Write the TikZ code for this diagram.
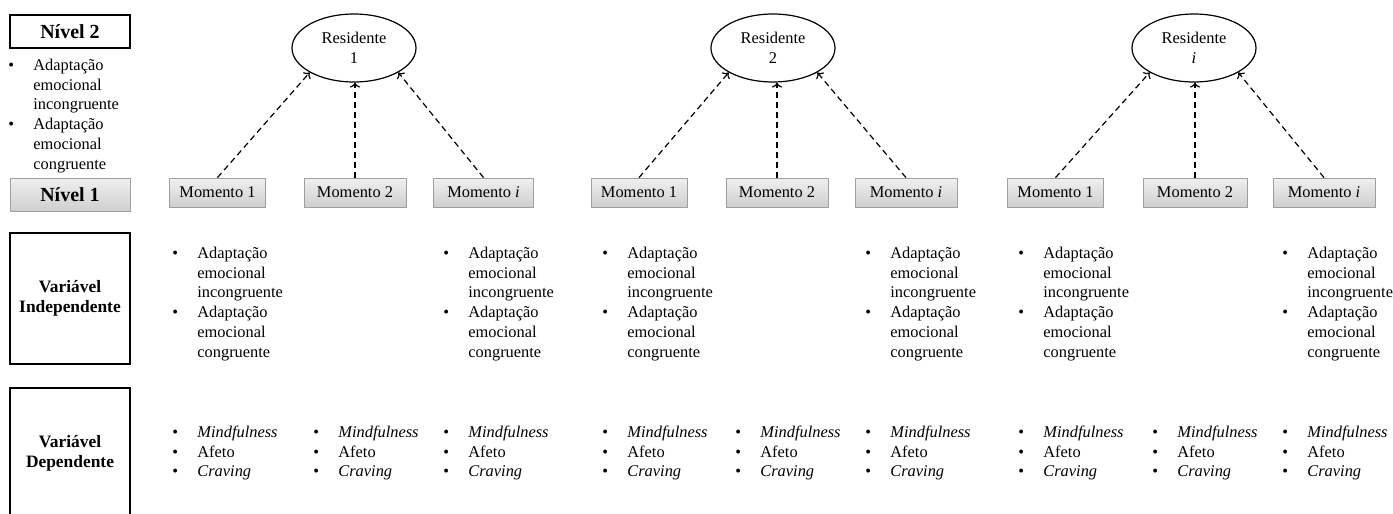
\documentclass[tikz,border=0pt]{standalone}
\usepackage{fontspec}
\setmainfont{Liberation Serif}
\usetikzlibrary{shapes.geometric}
\usetikzlibrary{arrows.meta}

\newcommand{\bl}{\makebox[12.5pt][l]{\textbullet}}
\newcommand{\adaptlist}{\begin{tabular}{@{}l@{}l@{}}\bl & Adaptação\\ & emocional\\ & incongruente\\ \bl & Adaptação\\ & emocional\\ & congruente\end{tabular}}
\newcommand{\mindlist}{\begin{tabular}{@{}l@{}l@{}}\bl & \textit{Mindfulness}\\ \bl & Afeto\\ \bl & \textit{Craving}\end{tabular}}

\begin{document}
\begin{tikzpicture}[x=0.5pt,y=-0.5pt,
    txt/.style={font=\fontsize{8.2}{9.9}\selectfont},
    lista/.style={txt,anchor=north west,inner sep=0pt},
    momento/.style={txt,draw=gray!75,top color=gray!12,bottom color=gray!38,minimum height=14.5pt,inner sep=0pt},
    residente/.style={txt,draw,semithick,ellipse,minimum width=62pt,minimum height=34pt,inner sep=0pt,align=center},
    nivel/.style={font=\fontsize{10}{12}\selectfont\bfseries,minimum width=60pt,inner sep=0pt},
    variavel/.style={draw,thick,font=\fontsize{8.7}{10}\selectfont\bfseries,align=center,minimum width=60pt,inner sep=0pt},
    seta/.style={dash pattern=on 3pt off 2pt,semithick,-{To[length=2.5pt,width=5pt]}}]

\path[use as bounding box] (0,0) rectangle (1393,514);
\clip (0,0) rectangle (1393,514);

\node[nivel,draw,thick,minimum height=16.5pt] (n2) at (70,31.5) {Nível 2};
\node[nivel,draw=gray!75,top color=gray!12,bottom color=gray!38,minimum height=16.5pt] (n1) at (70,194.5) {Nível 1};
\node[lista] (l0) at (8,56) {\adaptlist};
\node[variavel,minimum height=65.5pt] (vi) at (70,298.5) {Variável\\Independente};
\node[variavel,minimum height=65pt] (vd) at (70,453) {Variável\\Dependente};

\node[residente] (r1) at (354,48) {Residente\\1};
\node[residente] (r2) at (773,48) {Residente\\2};
\node[residente] (r3) at (1194,48) {Residente\\\textit{i}};

\node[momento,minimum width=48pt] (m11) at (217.5,192.5) {Momento 1};
\node[momento,minimum width=51pt] (m12) at (355,192.5) {Momento 2};
\node[momento,minimum width=50pt] (m13) at (483.5,192.5) {Momento \textit{i}};
\node[momento,minimum width=48pt] (m21) at (639,192.5) {Momento 1};
\node[momento,minimum width=51pt] (m22) at (777,192.5) {Momento 2};
\node[momento,minimum width=51pt] (m23) at (906,192.5) {Momento \textit{i}};
\node[momento,minimum width=48pt] (m31) at (1055.5,192.5) {Momento 1};
\node[momento,minimum width=52pt] (m32) at (1195,192.5) {Momento 2};
\node[momento,minimum width=51pt] (m33) at (1324,192.5) {Momento \textit{i}};

\draw[seta] (m11.north) -- (r1.south west);
\draw[seta] (m12.north) -- (m12.north |- r1.south);
\draw[seta] (m13.north) -- (r1.south east);
\draw[seta] (m21.north) -- (r2.south west);
\draw[seta] (m22.north) -- (m22.north |- r2.south);
\draw[seta] (m23.north) -- (r2.south east);
\draw[seta] (m31.north) -- (r3.south west);
\draw[seta] (m32.north) -- (m32.north |- r3.south);
\draw[seta] (m33.north) -- (r3.south east);

\node[lista] (a11) at (172,244) {\adaptlist};
\node[lista] (a13) at (443,244) {\adaptlist};
\node[lista] (a21) at (602,244) {\adaptlist};
\node[lista] (a23) at (865,244) {\adaptlist};
\node[lista] (a31) at (1018,244) {\adaptlist};
\node[lista] (a33) at (1282,244) {\adaptlist};

\node[lista] (d11) at (172,423) {\mindlist};
\node[lista] (d12) at (313,423) {\mindlist};
\node[lista] (d13) at (443,423) {\mindlist};
\node[lista] (d21) at (602,423) {\mindlist};
\node[lista] (d22) at (735,423) {\mindlist};
\node[lista] (d23) at (865,423) {\mindlist};
\node[lista] (d31) at (1018,423) {\mindlist};
\node[lista] (d32) at (1152,423) {\mindlist};
\node[lista] (d33) at (1282,423) {\mindlist};

\end{tikzpicture}
\end{document}
